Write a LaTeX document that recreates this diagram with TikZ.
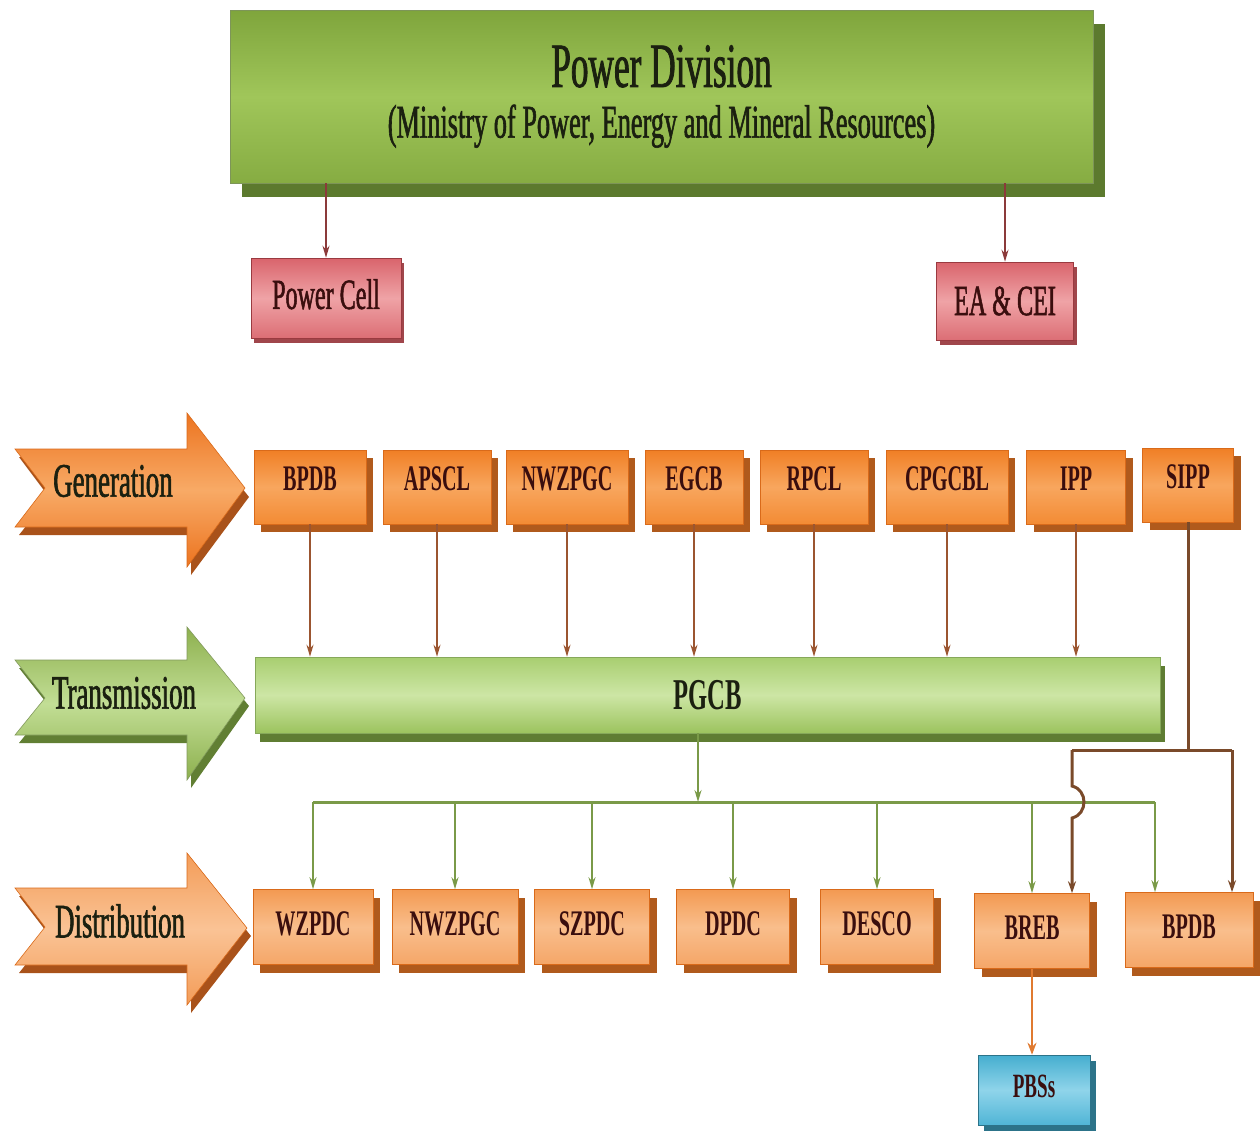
\documentclass[tikz,border=0pt]{standalone}
\usepackage{fontspec}
\setmainfont{Liberation Serif}[FakeStretch=0.56]
\newfontfamily\heavyfont{Liberation Serif}[FakeStretch=0.56,FakeBold=1.2]
\usetikzlibrary{shadows,arrows.meta}
\newcommand\fsz[1]{\fontsize{#1}{#1}\selectfont}
\definecolor{oTop}{HTML}{F07F25}
\definecolor{oMid}{HTML}{F8A65E}
\definecolor{oBot}{HTML}{F38B34}
\definecolor{oShadow}{HTML}{B05A1C}
\definecolor{oBorder}{HTML}{D96A1A}
\definecolor{lTop}{HTML}{F39A52}
\definecolor{lMid}{HTML}{F9BE8C}
\definecolor{lBot}{HTML}{F5A668}
\definecolor{gTop}{HTML}{7FA53C}
\definecolor{gMid}{HTML}{A0C65A}
\definecolor{gBot}{HTML}{86AC42}
\definecolor{gShadow}{HTML}{5C7A2E}
\definecolor{pTop}{HTML}{A8CE70}
\definecolor{pMid}{HTML}{CDE6A5}
\definecolor{pBot}{HTML}{9CC35E}
\definecolor{pShadow}{HTML}{5F7D33}
\definecolor{pBorder}{HTML}{86A85A}
\definecolor{rTop}{HTML}{D9646C}
\definecolor{rMid}{HTML}{EFA3A6}
\definecolor{rBot}{HTML}{DC6E75}
\definecolor{rShadow}{HTML}{A0464B}
\definecolor{rBorder}{HTML}{9A3A40}
\definecolor{bTop}{HTML}{45AECF}
\definecolor{bMid}{HTML}{8FD4EA}
\definecolor{bBot}{HTML}{50B5D6}
\definecolor{bShadow}{HTML}{2C7389}
\definecolor{aoTop}{HTML}{EC7420}
\definecolor{aoMid}{HTML}{F8AA66}
\definecolor{aoShadow}{HTML}{A9521A}
\definecolor{adTop}{HTML}{F39C58}
\definecolor{adMid}{HTML}{FAC395}
\definecolor{agTop}{HTML}{8DB04E}
\definecolor{agMid}{HTML}{C2DE95}
\definecolor{agShadow}{HTML}{617F33}
\definecolor{boxText}{HTML}{3A0E0E}
\definecolor{titleText}{HTML}{1B2010}
\definecolor{genLine}{HTML}{9B5530}
\definecolor{redLine}{HTML}{8B3A3A}
\definecolor{grLine}{HTML}{7A9A48}
\definecolor{sippLine}{HTML}{7A4A2A}
\definecolor{pbsLine}{HTML}{E07A30}
\begin{document}
\begin{tikzpicture}[x=1pt,y=-1pt,
  obox/.style={rectangle, draw=oBorder, line width=0.6pt, top color=oTop, bottom color=oBot, middle color=oMid,
    drop shadow={shadow xshift=7pt, shadow yshift=-8pt, fill=oShadow, opacity=1},
    inner sep=0pt, font=\bfseries\fsz{36}, text=boxText},
  lbox/.style={obox, top color=lTop, bottom color=lBot, middle color=lMid},
  rbox/.style={rectangle, draw=rBorder, line width=0.6pt, top color=rTop, bottom color=rBot, middle color=rMid,
    drop shadow={shadow xshift=3pt, shadow yshift=-5pt, fill=rShadow, opacity=1},
    inner sep=0pt, font=\heavyfont\fsz{43}, text=boxText},
  bbox/.style={rectangle, draw=bShadow, line width=0.6pt, top color=bTop, bottom color=bBot, middle color=bMid,
    drop shadow={shadow xshift=6pt, shadow yshift=-6pt, fill=bShadow, opacity=1},
    inner sep=0pt, font=\bfseries\fsz{34}, text=boxText},
  lbl/.style={font=\heavyfont\fsz{48}, text=titleText, inner sep=0pt},
  genarr/.style={draw=genLine, line width=1.8pt, -{Stealth[length=12pt,width=7pt]}},
  redarr/.style={draw=redLine, line width=1.5pt, -{Stealth[length=12pt,width=7pt]}},
  grarr/.style={draw=grLine, line width=1.8pt, -{Stealth[length=12pt,width=7pt]}},
  grline/.style={draw=grLine, line width=3pt},
  sippln/.style={draw=sippLine, line width=3pt},
  pbsarr/.style={draw=pbsLine, line width=2.8pt, -{Stealth[length=12pt,width=9pt]}},
]
\useasboundingbox (0,0) rectangle (1260,1136);

% ---------- top ----------
\node[rectangle, draw=gShadow!80, line width=0.6pt, top color=gTop, bottom color=gBot, middle color=gMid,
  drop shadow={shadow xshift=12pt, shadow yshift=-14pt, fill=gShadow, opacity=1},
  minimum width=863pt, minimum height=173pt, inner sep=0pt, align=center, text=titleText]
  (pd) at (661.5,96.5) {\heavyfont\fsz{63}Power Division\\[16pt]\heavyfont\fsz{47}(Ministry of Power, Energy and Mineral Resources)};

\node[rbox, minimum width=150pt, minimum height=80pt, text depth=8pt] (pcell) at (326,298) {Power Cell};
\node[rbox, minimum width=137pt, minimum height=78pt] (eacei) at (1005,301) {EA \& CEI};
\draw[redarr] (pcell.north |- pd.south) -- (pcell.north);
\draw[redarr] (eacei.north |- pd.south) -- (eacei.north);

% ---------- stage arrows ----------
\fill[aoShadow] (19,457) -- (191,457) -- (191,423) -- (249,497) -- (191,575) -- (191,535) -- (19,535) -- (49,497) -- cycle;
\path[draw=oBorder, line width=0.6pt, top color=aoTop, bottom color=aoTop, middle color=aoMid]
  (15,449) -- (187,449) -- (187,413) -- (245,488) -- (187,567) -- (187,527) -- (15,527) -- (45,488) -- cycle;
\node[lbl] (lgen) at (113,481) {Generation};

\fill[agShadow] (19,668) -- (191,668) -- (191,635) -- (249,706) -- (191,788) -- (191,743) -- (19,743) -- (49,706) -- cycle;
\path[draw=agShadow!80, line width=0.6pt, top color=agTop, bottom color=agTop, middle color=agMid]
  (15,660) -- (187,660) -- (187,627) -- (245,698) -- (187,780) -- (187,735) -- (15,735) -- (45,698) -- cycle;
\node[lbl] (ltra) at (124,693) {Transmission};

\fill[aoShadow] (19,896) -- (191,896) -- (191,861) -- (251,936) -- (191,1013) -- (191,973) -- (19,973) -- (49,935) -- cycle;
\path[draw=oBorder, line width=0.6pt, top color=adTop, bottom color=adTop, middle color=adMid]
  (15,888) -- (187,888) -- (187,853) -- (247,928) -- (187,1005) -- (187,965) -- (15,965) -- (45,927) -- cycle;
\node[lbl] (ldis) at (120,921) {Distribution};

% ---------- generation ----------
\begin{scope}[every node/.append style={minimum height=74pt, text depth=16pt}]
\node[obox, minimum width=112pt] (g1) at (310,487) {BPDB};
\node[obox, minimum width=108pt] (g2) at (437,487) {APSCL};
\node[obox, minimum width=122pt] (g3) at (567,487) {NWZPGC};
\node[obox, minimum width=98pt]  (g4) at (694,487) {EGCB};
\node[obox, minimum width=108pt] (g5) at (814,487) {RPCL};
\node[obox, minimum width=122pt] (g6) at (947,487) {CPGCBL};
\node[obox, minimum width=99pt]  (g7) at (1076,487) {IPP};
\node[obox, minimum width=91pt]  (g8) at (1188,485) {SIPP};
\end{scope}

% ---------- PGCB ----------
\node[rectangle, draw=pBorder, line width=0.6pt, top color=pTop, bottom color=pBot, middle color=pMid,
  drop shadow={shadow xshift=5pt, shadow yshift=-9pt, fill=pShadow, opacity=1},
  minimum width=905pt, minimum height=76pt, inner sep=0pt, font=\bfseries\fsz{44}, text=titleText]
  (pgcb) at (707.5,695) {PGCB};

\foreach \g in {g1,g2,g3,g4,g5,g6,g7}
  \draw[genarr] (\g.south) -- (\g.south |- pgcb.north);

% ---------- distribution ----------
\begin{scope}[every node/.append style={minimum height=75pt, text depth=6pt}]
\node[lbox, minimum width=120pt] (d1) at (313,927) {WZPDC};
\node[lbox, minimum width=126pt] (d2) at (455,927) {NWZPGC};
\node[lbox, minimum width=115pt] (d3) at (592,927) {SZPDC};
\node[lbox, minimum width=113pt] (d4) at (733,927) {DPDC};
\node[lbox, minimum width=113pt] (d5) at (877,927) {DESCO};
\node[lbox, minimum width=115pt] (d6) at (1032,931) {BREB};
\node[lbox, minimum width=128pt] (d7) at (1189,930) {BPDB};
\end{scope}
\node[bbox, minimum width=112pt, minimum height=70pt, text depth=8pt] (pbs) at (1034,1090) {PBSs};

% green distribution lines
\coordinate (gj) at (698,802);
\coordinate (xg7) at (1155,0);
\draw[grarr] (pgcb.south -| gj) -- (gj);
\draw[grline] (d1.north |- gj) -- (gj -| xg7);
\foreach \d in {d1,d2,d3,d4,d5,d6}
  \draw[grarr] (\d.north |- gj) -- (\d.north);
\draw[grarr] (gj -| xg7) -- (d7.north -| xg7);

% SIPP lines
\coordinate (sj) at (1188,750);
\coordinate (xbl) at (1072,0);
\coordinate (xbr) at (1232,0);
\coordinate (hopA) at (1072,786);
\coordinate (hopB) at (1072,818);
\draw[sippln] (g8.south) -- (sj);
\draw[sippln] (sj -| xbl) -- (sj -| xbr);
\draw[sippln, -{Stealth[length=12pt,width=8pt]}] (sj -| xbl) -- (hopA) .. controls (1088,790) and (1088,814) .. (hopB) -- (d6.north -| xbl);
\draw[sippln, -{Stealth[length=12pt,width=8pt]}] (sj -| xbr) -- (d7.north -| xbr);

% BREB -> PBSs
\draw[pbsarr] (d6.south) -- (d6.south |- pbs.north);
\end{tikzpicture}
\end{document}
